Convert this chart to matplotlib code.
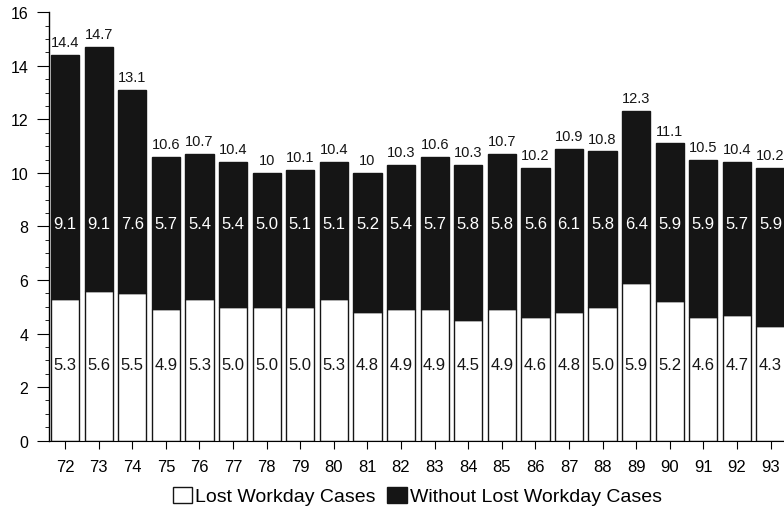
import matplotlib.pyplot as plt
from matplotlib.ticker import MultipleLocator
from matplotlib.patches import Patch

plt.rcParams['font.family'] = ['Liberation Sans', 'DejaVu Sans']

# Injury rates per year, split into the two case types
years = [72, 73, 74, 75, 76, 77, 78, 79, 80, 81, 82, 83, 84, 85, 86, 87, 88, 89, 90, 91, 92, 93]
lost_workday = [5.3, 5.6, 5.5, 4.9, 5.3, 5.0, 5.0, 5.0, 5.3, 4.8, 4.9, 4.9, 4.5, 4.9, 4.6, 4.8, 5.0, 5.9, 5.2, 4.6, 4.7, 4.3]
without_lost = [9.1, 9.1, 7.6, 5.7, 5.4, 5.4, 5.0, 5.1, 5.1, 5.2, 5.4, 5.7, 5.8, 5.8, 5.6, 6.1, 5.8, 6.4, 5.9, 5.9, 5.7, 5.9]
totals = ["14.4", "14.7", "13.1", "10.6", "10.7", "10.4", "10", "10.1", "10.4", "10", "10.3",
          "10.6", "10.3", "10.7", "10.2", "10.9", "10.8", "12.3", "11.1", "10.5", "10.4", "10.2"]

dark = '#151515'

fig = plt.figure(figsize=(7.84, 5.10), dpi=100)
ax = fig.add_axes([0.0625, 0.134, 0.9375, 0.84])

ax.bar(years, lost_workday, width=0.84, color='white', edgecolor=dark, linewidth=1.0)
ax.bar(years, without_lost, width=0.84, bottom=lost_workday, color=dark, edgecolor=dark, linewidth=1.0)

for x, lo, hi, tot in zip(years, lost_workday, without_lost, totals):
    ax.text(x, 2.85, f"{lo:.1f}", ha='center', va='center', fontsize=12, color=dark)
    ax.text(x, 8.1, f"{hi:.1f}", ha='center', va='center', fontsize=12, color='white')
    ax.text(x, lo + hi + 0.22, tot, ha='center', va='bottom', fontsize=10.5, color=dark)

ax.set_xlim(71.52, 93.4)
ax.set_ylim(0, 16)
ax.set_xticks(years)
ax.set_xticklabels([str(y) for y in years])
ax.yaxis.set_major_locator(MultipleLocator(2))
ax.yaxis.set_minor_locator(MultipleLocator(0.5))
ax.tick_params(axis='y', which='major', length=9, width=0.8, labelsize=11.5, pad=6)
ax.tick_params(axis='y', which='minor', length=3, width=0.6)
ax.tick_params(axis='x', length=6, width=0.8, labelsize=12, pad=7)

for side in ['top', 'right']:
    ax.spines[side].set_visible(False)
ax.spines['left'].set_linewidth(1.0)
ax.spines['bottom'].set_linewidth(0.8)

handles = [Patch(facecolor='white', edgecolor=dark, label='Lost Workday Cases'),
           Patch(facecolor=dark, edgecolor=dark, label='Without Lost Workday Cases')]
fig.legend(handles=handles, loc='center', bbox_to_anchor=(0.532, 0.025), ncol=2, frameon=False,
           fontsize=14, handlelength=1.0, handleheight=0.85, handletextpad=0.15, columnspacing=0.6)

fig.savefig('out.png', dpi=100)
